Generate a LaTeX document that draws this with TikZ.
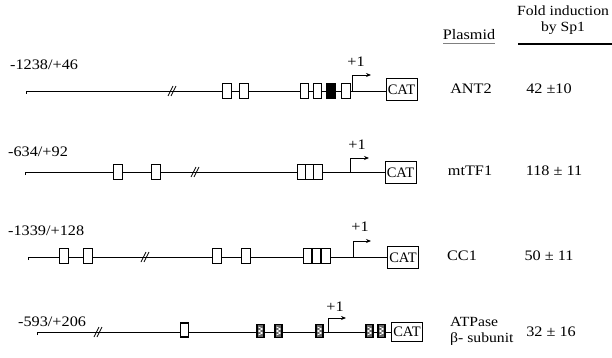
\documentclass[tikz,border=0pt]{standalone}
\usepackage{fontspec}
\setmainfont{Liberation Serif}[FakeStretch=1.12]
\newfontfamily\catfont{Liberation Serif}
\usetikzlibrary{arrows.meta}
\begin{document}
\begin{tikzpicture}[x=1pt,y=-1pt,
  every node/.style={font=\fontsize{14.5}{16}\selectfont, inner sep=0pt},
  dna/.style={line width=0.9pt},
  sbox/.style={draw, fill=white, line width=1.1pt, minimum width=8.5pt, minimum height=15pt, inner sep=0pt},
  fbox/.style={sbox, fill=black},
  pbox/.style={draw, fill=black!60, line width=1.1pt, minimum width=7pt, minimum height=13pt, inner sep=0pt,
    path picture={\draw[white, line width=0.7pt]
      ([xshift=1.5pt,yshift=-2.5pt]path picture bounding box.north west) -- ++(4pt,-2pt) -- ++(-4pt,-2pt) -- ++(4pt,-2pt) -- ++(-4pt,-2pt);}},
  catbox/.style={draw, line width=1pt, minimum width=31pt, minimum height=22pt, inner sep=1pt,
    font=\catfont\fontsize{14.5}{16}\selectfont},
  tss/.style={line width=0.8pt, -{Stealth[length=5pt,width=4pt]}},
  brk/.style={line width=0.7pt},
  lbl/.style={anchor=west},
]
\useasboundingbox (0,0) rectangle (612,358);

% ---------- header ----------
\node (hplas) at (469,35) {Plasmid};
\draw[line width=1pt, gray] (443,43.5) -- (495,43.5);
\node[align=center, font=\fontsize{14}{15.5}\selectfont] (hfold) at (563,20) {Fold induction\\by Sp1};
\draw[line width=2pt] (518,44) -- (612,44);

% ---------- row 1 : ANT2 ----------
\node[lbl] (l1) at (10,65) {-1238/+46};
\coordinate (s1) at (26,91);
\node[catbox] (cat1) at (401.5,89.5) {CAT};
\draw[dna] ([yshift=-3pt]s1) -- (s1) -- (s1 -| cat1.west);
\draw[brk] (168,96) -- (173,86); \draw[brk] (171,96) -- (176,86);
\node[sbox] (a1) at (227,91) {};
\node[sbox] (a2) at (244,91) {};
\node[sbox] (a3) at (304.5,91) {};
\node[sbox] (a4) at (317.5,91) {};
\node[fbox] (a5) at (331,91) {};
\node[sbox] (a6) at (346,91) {};
\coordinate (t1) at (352,91);
\coordinate (e1) at (371,75);
\draw[tss] (t1) |- (e1);
\node (p1) at (356,62) {+1};
\node (n1) at (471,89) {ANT2};
\node (f1) at (549,89) {42 ±10};

% ---------- row 2 : mtTF1 ----------
\node[lbl] (l2) at (8,152) {-634/+92};
\coordinate (s2) at (25,172);
\node[catbox] (cat2) at (400.5,172.5) {CAT};
\draw[dna] ([yshift=-3pt]s2) -- (s2) -- (s2 -| cat2.west);
\draw[brk] (191,177) -- (196,167); \draw[brk] (194,177) -- (199,167);
\node[sbox] (b1) at (118,172) {};
\node[sbox] (b2) at (156,172) {};
\node[sbox] (b3) at (302,172) {};
\node[sbox] (b4) at (310,172) {};
\node[sbox] (b5) at (318,172) {};
\coordinate (t2) at (350,172);
\coordinate (e2) at (369,158);
\draw[tss] (t2) |- (e2);
\node (p2) at (357,145) {+1};
\node (n2) at (470,171) {mtTF1};
\node (f2) at (554,171) {118 ± 11};

% ---------- row 3 : CC1 ----------
\node[lbl] (l3) at (8,231) {-1339/+128};
\coordinate (s3) at (28,257);
\node[catbox] (cat3) at (403,257.5) {CAT};
\draw[dna] ([yshift=-3pt]s3) -- (s3) -- (s3 -| cat3.west);
\draw[brk] (141,262) -- (146,252); \draw[brk] (144,262) -- (149,252);
\node[sbox] (c1) at (64,256) {};
\node[sbox] (c2) at (88,256) {};
\node[sbox] (c3) at (217,256) {};
\node[sbox] (c4) at (246,256) {};
\node[sbox] (c5) at (307.5,256) {};
\node[sbox] (c6) at (316.5,256) {};
\node[sbox] (c7) at (326,256) {};
\coordinate (t3) at (353,257);
\coordinate (e3) at (371,241);
\draw[tss] (t3) |- (e3);
\node (p3) at (360,227) {+1};
\node (n3) at (462,256) {CC1};
\node (f3) at (549,256) {50 ± 11};

% ---------- row 4 : ATPase beta ----------
\node[lbl] (l4) at (18,322) {-593/+206};
\coordinate (s4) at (37,332);
\node[catbox, minimum height=19pt] (cat4) at (407,332) {CAT};
\draw[dna] ([yshift=-3pt]s4) -- (s4) -- (s4 -| cat4.west);
\draw[brk] (94,337) -- (99,327); \draw[brk] (97,337) -- (102,327);
\node[sbox, minimum height=14pt] (d1) at (184.5,330) {};
\node[pbox] (d2) at (260.5,331) {};
\node[pbox] (d3) at (278.5,331) {};
\node[pbox] (d4) at (319.5,331) {};
\node[pbox] (d5) at (369.5,331) {};
\node[pbox] (d6) at (381.5,331) {};
\coordinate (t4) at (328,332);
\coordinate (e4) at (346,318);
\draw[tss] (t4) |- (e4);
\node (p4) at (335,307) {+1};
\node[align=left, anchor=west, font=\fontsize{14}{16}\selectfont] (n4) at (450,331) {ATPase\\β- subunit};
\node (f4) at (551,332) {32 ± 16};
\end{tikzpicture}
\end{document}
